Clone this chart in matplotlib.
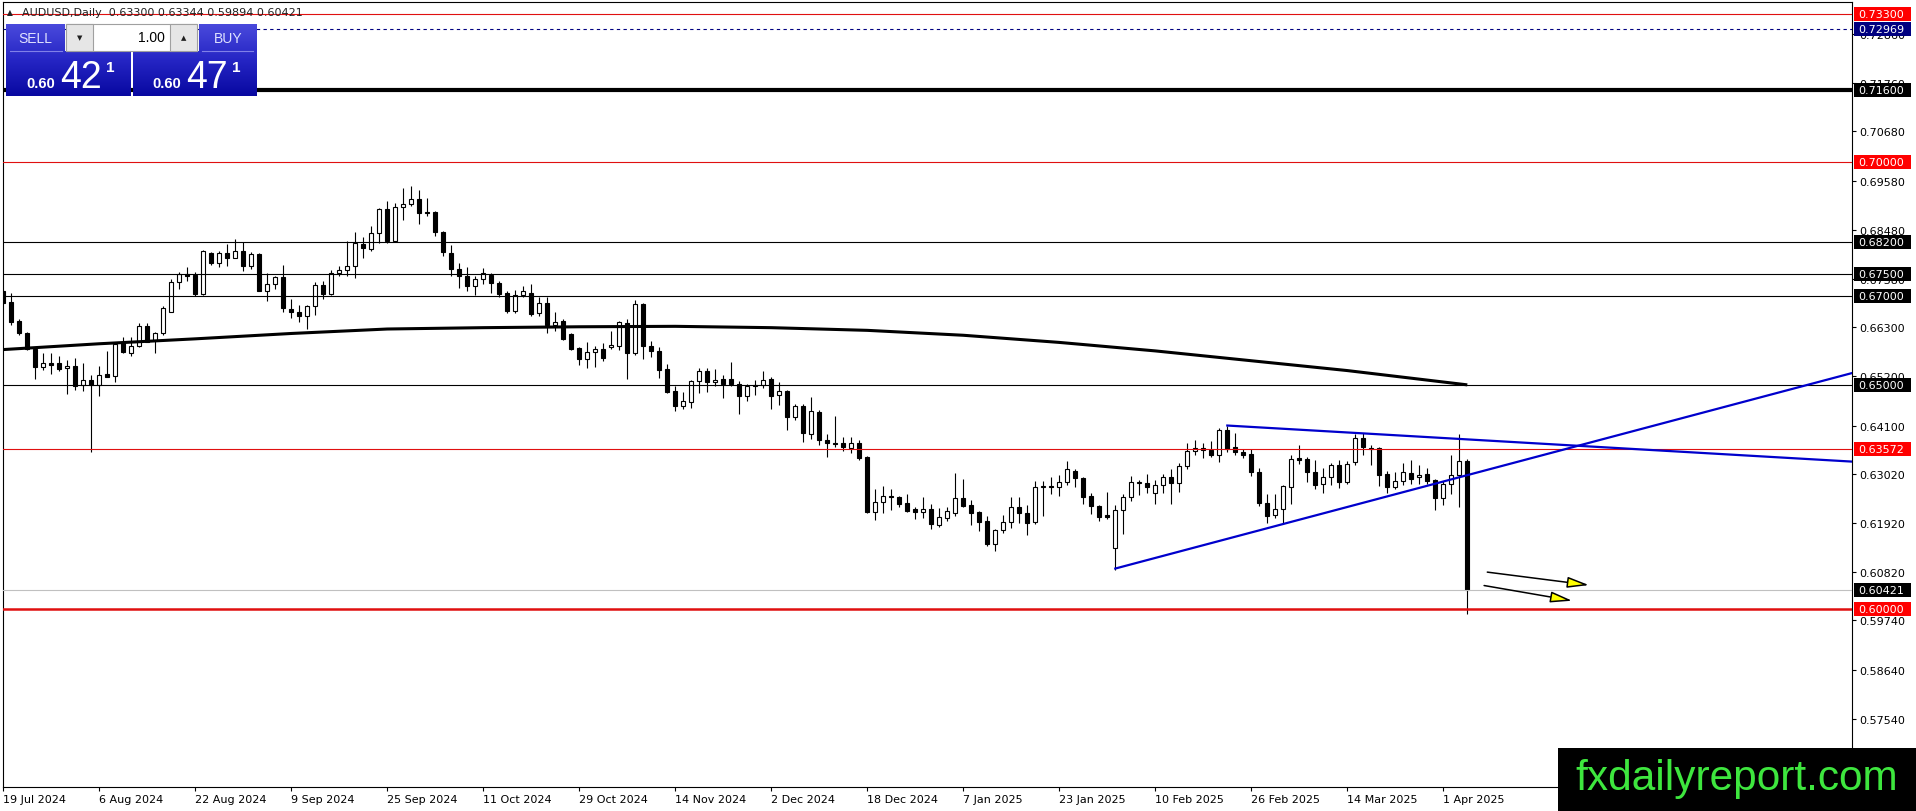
import numpy as np
import pandas as pd
import matplotlib
matplotlib.use("Agg")
import matplotlib.pyplot as plt
from matplotlib.patches import Rectangle
from matplotlib.colors import LinearSegmentedColormap
import matplotlib.transforms as mtransforms

# ---- data ----
symbol = "AUDUSD,Daily"

# daily bars, 19 Jul 2024 .. 4 Apr 2025 (weekdays, no 25 Dec / 1 Jan)
dates = pd.bdate_range("2024-07-19", "2025-04-04")
dates = dates[~dates.isin(pd.to_datetime(["2024-12-25", "2025-01-01"]))]

opens = [0.6710, 0.6686, 0.6643, 0.6616, 0.6581, 0.6540, 0.6550, 0.6549, 0.6538, 0.6543,
         0.6501, 0.6513, 0.6501, 0.6525, 0.6520, 0.6594, 0.6572, 0.6587, 0.6632, 0.6602,
         0.6616, 0.6665, 0.6732, 0.6749, 0.6747, 0.6704, 0.6796, 0.6773, 0.6796, 0.6786,
         0.6801, 0.6766, 0.6793, 0.6712, 0.6726, 0.6742, 0.6670, 0.6663, 0.6654, 0.6677,
         0.6725, 0.6704, 0.6751, 0.6757, 0.6766, 0.6816, 0.6805, 0.6840, 0.6895, 0.6824,
         0.6898, 0.6906, 0.6917, 0.6887, 0.6887, 0.6842, 0.6795, 0.6760, 0.6745, 0.6723,
         0.6739, 0.6747, 0.6728, 0.6706, 0.6667, 0.6701, 0.6706, 0.6662, 0.6684, 0.6636,
         0.6643, 0.6615, 0.6584, 0.6560, 0.6574, 0.6581, 0.6586, 0.6587, 0.6639, 0.6572,
         0.6682, 0.6587, 0.6576, 0.6537, 0.6487, 0.6454, 0.6462, 0.6509, 0.6533, 0.6507,
         0.6514, 0.6514, 0.6504, 0.6475, 0.6498, 0.6501, 0.6514, 0.6478, 0.6487, 0.6430,
         0.6453, 0.6390, 0.6440, 0.6378, 0.6371, 0.6370, 0.6360, 0.6372, 0.6339, 0.6216,
         0.6238, 0.6252, 0.6249, 0.6236, 0.6223, 0.6217, 0.6223, 0.6187, 0.6204, 0.6214,
         0.6247, 0.6232, 0.6216, 0.6196, 0.6146, 0.6177, 0.6195, 0.6227, 0.6214, 0.6195,
         0.6273, 0.6275, 0.6273, 0.6283, 0.6308, 0.6292, 0.6252, 0.6229, 0.6209, 0.6136,
         0.6221, 0.6250, 0.6281, 0.6281, 0.6258, 0.6277, 0.6294, 0.6281, 0.6319, 0.6352,
         0.6359, 0.6356, 0.6345, 0.6401, 0.6361, 0.6351, 0.6346, 0.6305, 0.6236, 0.6210,
         0.6224, 0.6272, 0.6337, 0.6335, 0.6307, 0.6279, 0.6294, 0.6321, 0.6284, 0.6328,
         0.6383, 0.6359, 0.6359, 0.6301, 0.6273, 0.6285, 0.6304, 0.6294, 0.6301, 0.6288,
         0.6247, 0.6279, 0.6300, 0.63300]
highs = [0.6714, 0.6706, 0.6648, 0.6620, 0.6583, 0.6572, 0.6572, 0.6565, 0.6557, 0.6562,
         0.6549, 0.6522, 0.6544, 0.6576, 0.6595, 0.6607, 0.6607, 0.6640, 0.6640, 0.6620,
         0.6677, 0.6738, 0.6753, 0.6764, 0.6753, 0.6803, 0.6799, 0.6800, 0.6816, 0.6827,
         0.6820, 0.6798, 0.6795, 0.6751, 0.6745, 0.6770, 0.6693, 0.6680, 0.6680, 0.6731,
         0.6734, 0.6757, 0.6768, 0.6822, 0.6844, 0.6831, 0.6856, 0.6897, 0.6912, 0.6908,
         0.6942, 0.6945, 0.6938, 0.6919, 0.6891, 0.6846, 0.6814, 0.6773, 0.6764, 0.6745,
         0.6763, 0.6751, 0.6734, 0.6710, 0.6713, 0.6723, 0.6727, 0.6697, 0.6697, 0.6663,
         0.6648, 0.6617, 0.6585, 0.6598, 0.6587, 0.6595, 0.6621, 0.6645, 0.6648, 0.6691,
         0.6684, 0.6600, 0.6585, 0.6548, 0.6498, 0.6486, 0.6512, 0.6539, 0.6539, 0.6537,
         0.6524, 0.6553, 0.6510, 0.6503, 0.6512, 0.6531, 0.6518, 0.6507, 0.6490, 0.6458,
         0.6458, 0.6473, 0.6445, 0.6390, 0.6431, 0.6385, 0.6384, 0.6378, 0.6341, 0.6267,
         0.6275, 0.6267, 0.6253, 0.6257, 0.6227, 0.6251, 0.6234, 0.6225, 0.6227, 0.6304,
         0.6290, 0.6243, 0.6219, 0.6208, 0.6178, 0.6210, 0.6251, 0.6251, 0.6232, 0.6287,
         0.6287, 0.6294, 0.6299, 0.6330, 0.6312, 0.6295, 0.6260, 0.6232, 0.6262, 0.6232,
         0.6256, 0.6297, 0.6288, 0.6301, 0.6288, 0.6301, 0.6312, 0.6326, 0.6371, 0.6378,
         0.6371, 0.6375, 0.6405, 0.6408, 0.6394, 0.6358, 0.6357, 0.6316, 0.6257, 0.6257,
         0.6277, 0.6344, 0.6366, 0.6339, 0.6333, 0.6314, 0.6326, 0.6333, 0.6331, 0.6391,
         0.6393, 0.6367, 0.6361, 0.6309, 0.6307, 0.6327, 0.6332, 0.6321, 0.6314, 0.6290,
         0.6286, 0.6344, 0.6392, 0.63344]
lows = [0.6682, 0.6634, 0.6613, 0.6578, 0.6514, 0.6535, 0.6526, 0.6532, 0.6481, 0.6490,
        0.6488, 0.6350, 0.6475, 0.6518, 0.6508, 0.6572, 0.6566, 0.6585, 0.6596, 0.6572,
        0.6613, 0.6663, 0.6716, 0.6734, 0.6699, 0.6702, 0.6770, 0.6764, 0.6768, 0.6784,
        0.6755, 0.6760, 0.6710, 0.6688, 0.6716, 0.6663, 0.6650, 0.6642, 0.6625, 0.6658,
        0.6693, 0.6702, 0.6745, 0.6745, 0.6741, 0.6786, 0.6801, 0.6819, 0.6819, 0.6820,
        0.6871, 0.6901, 0.6860, 0.6878, 0.6833, 0.6789, 0.6745, 0.6717, 0.6710, 0.6702,
        0.6727, 0.6706, 0.6698, 0.6661, 0.6661, 0.6697, 0.6656, 0.6654, 0.6616, 0.6622,
        0.6602, 0.6579, 0.6546, 0.6539, 0.6542, 0.6555, 0.6581, 0.6580, 0.6514, 0.6568,
        0.6560, 0.6564, 0.6516, 0.6483, 0.6443, 0.6447, 0.6449, 0.6483, 0.6486, 0.6499,
        0.6471, 0.6499, 0.6436, 0.6464, 0.6479, 0.6494, 0.6446, 0.6457, 0.6401, 0.6423,
        0.6374, 0.6380, 0.6366, 0.6339, 0.6363, 0.6354, 0.6349, 0.6334, 0.6214, 0.6199,
        0.6214, 0.6220, 0.6227, 0.6217, 0.6201, 0.6202, 0.6178, 0.6184, 0.6197, 0.6208,
        0.6227, 0.6188, 0.6173, 0.6141, 0.6130, 0.6169, 0.6181, 0.6193, 0.6166, 0.6189,
        0.6208, 0.6257, 0.6252, 0.6278, 0.6273, 0.6234, 0.6211, 0.6197, 0.6201, 0.6087,
        0.6167, 0.6242, 0.6255, 0.6260, 0.6234, 0.6260, 0.6234, 0.6261, 0.6312, 0.6345,
        0.6337, 0.6339, 0.6329, 0.6351, 0.6344, 0.6337, 0.6298, 0.6231, 0.6193, 0.6203,
        0.6190, 0.6234, 0.6324, 0.6284, 0.6267, 0.6259, 0.6277, 0.6270, 0.6279, 0.6322,
        0.6344, 0.6322, 0.6274, 0.6259, 0.6268, 0.6278, 0.6279, 0.6279, 0.6280, 0.6221,
        0.6232, 0.6257, 0.6228, 0.59894]
closes = [0.6684, 0.6642, 0.6617, 0.6581, 0.6540, 0.6549, 0.6546, 0.6537, 0.6543, 0.6499,
          0.6512, 0.6501, 0.6524, 0.6519, 0.6593, 0.6574, 0.6587, 0.6632, 0.6598, 0.6616,
          0.6672, 0.6732, 0.6749, 0.6745, 0.6704, 0.6800, 0.6773, 0.6796, 0.6786, 0.6801,
          0.6766, 0.6793, 0.6712, 0.6726, 0.6742, 0.6672, 0.6663, 0.6654, 0.6677, 0.6725,
          0.6704, 0.6751, 0.6758, 0.6767, 0.6819, 0.6808, 0.6840, 0.6895, 0.6824, 0.6898,
          0.6906, 0.6917, 0.6885, 0.6885, 0.6842, 0.6798, 0.6760, 0.6745, 0.6723, 0.6739,
          0.6751, 0.6728, 0.6704, 0.6667, 0.6701, 0.6710, 0.6660, 0.6684, 0.6636, 0.6641,
          0.6604, 0.6581, 0.6560, 0.6574, 0.6581, 0.6561, 0.6590, 0.6641, 0.6572, 0.6682,
          0.6587, 0.6576, 0.6534, 0.6486, 0.6454, 0.6464, 0.6509, 0.6533, 0.6507, 0.6512,
          0.6503, 0.6504, 0.6477, 0.6498, 0.6501, 0.6513, 0.6477, 0.6487, 0.6430, 0.6453,
          0.6393, 0.6442, 0.6378, 0.6370, 0.6369, 0.6363, 0.6372, 0.6337, 0.6217, 0.6238,
          0.6252, 0.6249, 0.6234, 0.6219, 0.6217, 0.6223, 0.6190, 0.6205, 0.6218, 0.6247,
          0.6231, 0.6214, 0.6195, 0.6145, 0.6177, 0.6195, 0.6227, 0.6214, 0.6192, 0.6273,
          0.6275, 0.6273, 0.6283, 0.6313, 0.6292, 0.6251, 0.6229, 0.6206, 0.6206, 0.6221,
          0.6250, 0.6283, 0.6283, 0.6273, 0.6277, 0.6294, 0.6281, 0.6319, 0.6352, 0.6359,
          0.6356, 0.6345, 0.6401, 0.6357, 0.6350, 0.6345, 0.6305, 0.6236, 0.6208, 0.6224,
          0.6274, 0.6336, 0.6333, 0.6307, 0.6278, 0.6294, 0.6321, 0.6284, 0.6325, 0.6381,
          0.6361, 0.6357, 0.6299, 0.6273, 0.6285, 0.6305, 0.6290, 0.6300, 0.6285, 0.6247,
          0.6279, 0.6300, 0.6331, 0.60421]

# moving average (thick black line), read at every 12th bar
ma_idx = [0, 12, 24, 36, 48, 60, 72, 84, 96, 108, 120, 132, 144, 156, 168, 183]
ma_val = [0.6580, 0.6593, 0.6604, 0.6616, 0.6626, 0.6629, 0.6631, 0.6632, 0.6629,
          0.6623, 0.6612, 0.6596, 0.6577, 0.6555, 0.6533, 0.6501]

# horizontal levels: price, line colour, style, width, label box colour
levels = [0.73300, 0.72969, 0.71600, 0.70000, 0.68200, 0.67500, 0.67000,
          0.65000, 0.63572, 0.60421, 0.60000]
level_colors = ["#e01010", "#000080", "black", "#e01010", "black", "black", "black",
                "black", "#e01010", "#c0c0c0", "#e01010"]
level_styles = ["-", (0, (3, 3)), "-", "-", "-", "-", "-", "-", "-", "-", "-"]
level_widths = [0.8, 0.8, 3.0, 0.8, 0.8, 0.8, 0.8, 0.8, 0.8, 0.8, 1.8]
label_colors = ["#ff0000", "#000080", "black", "#ff0000", "black", "black", "black",
                "black", "#ff0000", "black", "#ff0000"]

# trend lines (two anchor points each, extended to the right)
trend_support = [(139, 0.6090), (183, 0.6299)]
trend_resist = [(153, 0.6410), (183, 0.6379)]

# arrows (start, end)
arrows = [((185.5, 0.6082), (198.2, 0.6053)),
          ((185.1, 0.6052), (196.1, 0.6018))]

yticks = [0.72860, 0.71760, 0.70680, 0.69580, 0.68480, 0.67380, 0.66300, 0.65200,
          0.64100, 0.63020, 0.61920, 0.60820, 0.59740, 0.58640, 0.57540]

bid = 0.60421
ask = 0.60471
lots = "1.00"

# ---- figure ----
W, H = 1916, 812
fig = plt.figure(figsize=(W / 100, H / 100), dpi=100, facecolor="white")

ax_l, ax_r, ax_t, ax_b = 2.7, 1852.0, 2.7, 788.3
ax = fig.add_axes([ax_l / W, 1 - ax_b / H, (ax_r - ax_l) / W, (ax_b - ax_t) / H])
ax.set_facecolor("white")

bar_px = 8.0
x0_px = 3.3
ax.set_xlim((ax_l - x0_px) / bar_px, (ax_r - x0_px) / bar_px)
ax.set_ylim(0.56005, 0.73584)

o = np.array(opens); h = np.array(highs); l = np.array(lows); c = np.array(closes)
x = np.arange(len(o))
up = c >= o

ax.vlines(x, l, h, color="black", linewidth=0.8, zorder=2)
ax.bar(x[up], np.maximum(c[up] - o[up], 0.00004), bottom=o[up], width=0.5,
       facecolor="white", edgecolor="black", linewidth=0.8, zorder=3)
ax.bar(x[~up], np.maximum(o[~up] - c[~up], 0.00004), bottom=c[~up], width=0.5,
       facecolor="black", edgecolor="black", linewidth=0.8, zorder=3)

ax.plot(ma_idx, ma_val, color="black", linewidth=2.2, zorder=4, solid_capstyle="butt")

for lv, lc, ls, lw in zip(levels, level_colors, level_styles, level_widths):
    ax.axhline(lv, color=lc, linestyle=ls, linewidth=lw, zorder=4)

xmax = ax.get_xlim()[1]
for (xa, ya), (xb, yb) in (trend_support, trend_resist):
    slope = (yb - ya) / (xb - xa)
    ax.plot([xa, xmax], [ya, ya + slope * (xmax - xa)], color="#0000cc",
            linewidth=1.6, zorder=5, clip_on=True)

for (xs, ys), (xe, ye) in arrows:
    ax.annotate("", xy=(xe, ye), xytext=(xs, ys),
                arrowprops=dict(arrowstyle="-|>,head_length=1.1,head_width=0.28",
                                mutation_scale=12, fc="#ffff00", ec="black",
                                lw=1.1, shrinkA=0, shrinkB=0), zorder=6)

# axes / ticks in MT4 style
for sp in ax.spines.values():
    sp.set_color("black")
    sp.set_linewidth(0.8)
ax.yaxis.tick_right()
ax.set_yticks(yticks)
ax.set_yticklabels([f"{v:.5f}" for v in yticks])
ax.tick_params(axis="y", which="both", right=True, left=False, length=3, width=0.8,
               pad=2, labelsize=8, colors="black")

xt = list(range(0, len(dates), 12))
ax.set_xticks(xt)
ax.set_xticklabels([f"{dates[i].day} {dates[i].strftime('%b %Y')}" for i in xt])
ax.tick_params(axis="x", length=3, width=0.8, pad=2, labelsize=8, colors="black")
for t in ax.get_xticklabels():
    t.set_horizontalalignment("left")

# price label boxes on the right scale
blend = mtransforms.blended_transform_factory(ax.transAxes, ax.transData)
y_per_px = (ax.get_ylim()[1] - ax.get_ylim()[0]) / (ax_b - ax_t)
box_h = 14 * y_per_px
bx0 = (1854 - ax_l) / (ax_r - ax_l)
bw = 57 / (ax_r - ax_l)
tx0 = (1858.5 - ax_l) / (ax_r - ax_l)
for lv, bc in zip(levels, label_colors):
    ax.add_patch(Rectangle((bx0, lv - box_h / 2), bw, box_h, transform=blend,
                           facecolor=bc, edgecolor="none", clip_on=False, zorder=8))
    ax.text(tx0, lv, f"{lv:.5f}", transform=blend, color="white", fontsize=8,
            ha="left", va="center", clip_on=False, zorder=9)

# ---- overlay in pixel coordinates: header, trade panel, watermark ----
ui = fig.add_axes([0, 0, 1, 1], zorder=10)
ui.patch.set_alpha(0)
ui.axis("off")

ui.text(7, 12.5, "\u25b2", fontsize=5.5, color="#202020", va="center", ha="left")
ui.text(22, 12.5, f"{symbol}  {opens[-1]:.5f} {highs[-1]:.5f} {lows[-1]:.5f} {closes[-1]:.5f}",
        fontsize=8, color="#202020", va="center", ha="left")

blue = LinearSegmentedColormap.from_list("panel", ["#4a4adc", "#2525c4", "#0808a0"])
grad = np.linspace(0, 1, 100).reshape(-1, 1)
panel_top, panel_bot = 25, 97
for (px0, py0, px1, py1) in [(6, 25, 65, 52), (6, 52, 131, 97),
                             (199, 25, 257, 52), (133, 52, 257, 97)]:
    g = grad[int((py0 - panel_top) / (panel_bot - panel_top) * 99):
             int((py1 - panel_top) / (panel_bot - panel_top) * 99) + 1]
    ui.imshow(g, cmap=blue, vmin=0, vmax=1, extent=[px0, px1, py1, py0],
              aspect="auto", interpolation="bilinear")

ui.add_patch(Rectangle((66, 25), 131, 27, facecolor="white", edgecolor="#a0a0a0", lw=0.8))
ui.add_patch(Rectangle((66, 25), 27, 27, facecolor="#e6e6e6", edgecolor="#a0a0a0", lw=0.8))
ui.add_patch(Rectangle((170, 25), 27, 27, facecolor="#e6e6e6", edgecolor="#a0a0a0", lw=0.8))
ui.text(79.5, 38.5, "\u25bc", fontsize=5, ha="center", va="center", color="#202020")
ui.text(183.5, 38, "\u25b2", fontsize=5, ha="center", va="center", color="#202020")
ui.text(165, 38.5, lots, fontsize=10, ha="right", va="center", color="black",
        family="Liberation Sans")
ui.text(35.5, 39, "SELL", fontsize=10, ha="center", va="center", color="#e0e2ff",
        family="Liberation Sans")
ui.text(228, 39, "BUY", fontsize=10, ha="center", va="center", color="#e0e2ff",
        family="Liberation Sans")
ui.plot([10, 62], [52, 52], color="#8080e8", lw=0.8)
ui.plot([202, 253], [52, 52], color="#8080e8", lw=0.8)

for price, bx in ((bid, 26), (ask, 152)):
    s = f"{price:.5f}"
    ui.text(bx, 88, s[:4], fontsize=10.5, fontweight="bold", color="white",
            family="Liberation Sans", va="baseline", ha="left")
    ui.text(bx + 34, 88, s[4:6], fontsize=27, color="white",
            family="Liberation Sans", va="baseline", ha="left")
    ui.text(bx + 80, 72, s[6], fontsize=11, fontweight="bold", color="white",
            family="Liberation Sans", va="baseline", ha="left")

ui.add_patch(Rectangle((1558, 749), 358, 63, facecolor="black", edgecolor="none"))
ui.text(1575, 790, "fxdailyreport.com", fontsize=30.5, color="#3ee63e",
        family="Liberation Sans", va="baseline", ha="left")

ui.set_xlim(0, W)
ui.set_ylim(H, 0)

fig.savefig("out.png", dpi=100, facecolor="white")
